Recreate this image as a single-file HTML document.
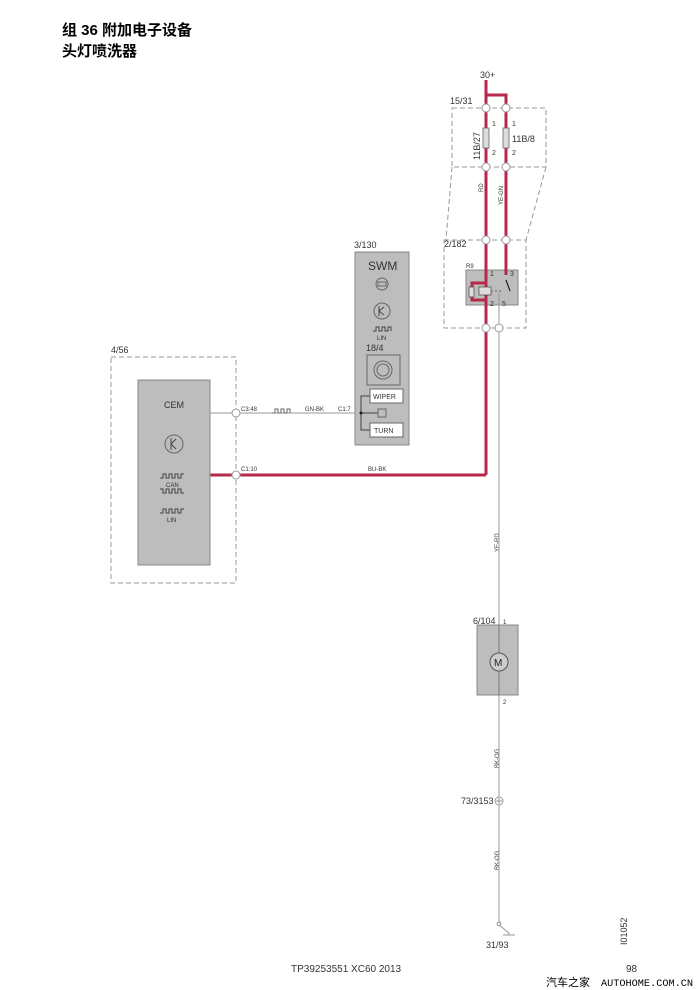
<!DOCTYPE html>
<html><head><meta charset="utf-8"><style>
html,body{margin:0;padding:0;background:#fff;overflow:hidden;}
svg{display:block;}
text{font-family:"Liberation Sans","Noto Sans CJK SC",sans-serif;fill:#333;}
</style></head><body>
<svg width="700" height="990" viewBox="0 0 700 990" xmlns="http://www.w3.org/2000/svg">
<text x="62" y="35" font-size="15" font-weight="bold" style="fill:#000">组 36 附加电子设备</text>
<text x="62" y="56" font-size="15" font-weight="bold" style="fill:#000">头灯喷洗器</text>

<g fill="none" stroke="#999" stroke-width="1" stroke-dasharray="5,3">
<rect x="452" y="108" width="94" height="59"/>
<line x1="452" y1="167" x2="446" y2="240"/>
<line x1="546" y1="167" x2="526" y2="240"/>
<rect x="444" y="240" width="82" height="88"/>
<rect x="111" y="357" width="125" height="226"/>
</g>
<text x="480" y="78" font-size="9">30+</text>
<text x="450" y="104" font-size="9">15/31</text>
<text x="444" y="247" font-size="9">2/182</text>
<text x="111" y="353" font-size="9">4/56</text>
<text x="354" y="248" font-size="9">3/130</text>

<rect x="466" y="270" width="52" height="35" fill="#bdbdbd" stroke="#888"/>
<g stroke="#b5294a" stroke-width="3" fill="none">
<line x1="486" y1="80" x2="486" y2="475"/>
<polyline points="486,95 506,95 506,275"/>
<polyline points="486,283 472,283 472,300 486,300"/>
<polyline points="210,475 486,475"/>
</g>
<rect x="483" y="128" width="6" height="20" fill="#ddd" stroke="#666" stroke-width="0.8"/>
<rect x="503" y="128" width="6" height="20" fill="#ddd" stroke="#666" stroke-width="0.8"/>
<g font-size="7"><text x="492" y="126">1</text><text x="512" y="126">1</text><text x="492" y="155">2</text><text x="512" y="155">2</text></g>
<text font-size="9" transform="translate(480,160) rotate(-90)">11B/27</text>
<text x="512" y="142" font-size="9">11B/8</text>
<text font-size="6" transform="translate(483,192) rotate(-90)">RD</text>
<text font-size="6" transform="translate(503,205) rotate(-90)">YE-GN</text>
<text font-size="6" transform="translate(499,552) rotate(-90)">YE-RD</text>
<text font-size="6" transform="translate(499,768) rotate(-90)">BK-OG</text>
<text font-size="6" transform="translate(499,870) rotate(-90)">BK-OG</text>
<rect x="469" y="287" width="5" height="10" fill="#ddd" stroke="#444" stroke-width="0.7"/>
<rect x="479" y="287" width="12" height="8" fill="#ddd" stroke="#444" stroke-width="0.7"/>
<line x1="491" y1="291" x2="503" y2="291" stroke="#666" stroke-dasharray="2,2"/>
<line x1="506" y1="280" x2="510" y2="291" stroke="#222" stroke-width="1.2"/>
<text x="466" y="268" font-size="6">R9</text>
<g font-size="7"><text x="490" y="276">1</text><text x="510" y="276">3</text><text x="490" y="306">2</text><text x="502" y="306">5</text></g>
<g stroke="#999" stroke-width="1" fill="none">
<line x1="499" y1="293" x2="499" y2="925"/>
<line x1="210" y1="413" x2="364" y2="413"/>
<polyline points="499,925 509,933"/>
<line x1="503" y1="935" x2="515" y2="935"/>
<line x1="509" y1="933" x2="509" y2="935"/>
</g>
<circle cx="499" cy="924" r="1.8" fill="#fff" stroke="#888"/>
<text x="486" y="948" font-size="9">31/93</text>
<g fill="#fff" stroke="#999" stroke-width="1">
<circle cx="486" cy="108" r="4"/><circle cx="506" cy="108" r="4"/>
<circle cx="486" cy="167" r="4"/><circle cx="506" cy="167" r="4"/>
<circle cx="486" cy="240" r="4"/><circle cx="506" cy="240" r="4"/>
<circle cx="486" cy="328" r="4"/><circle cx="499" cy="328" r="4"/>
<circle cx="236" cy="413" r="4"/><circle cx="236" cy="475" r="4"/>
<circle cx="499" cy="801" r="4"/>
</g>
<line x1="496" y1="801" x2="502" y2="801" stroke="#999"/><line x1="499" y1="798" x2="499" y2="804" stroke="#999"/>
<text x="461" y="804" font-size="9">73/3153</text>

<rect x="138" y="380" width="72" height="185" fill="#bdbdbd" stroke="#888"/>
<text x="164" y="408" font-size="9">CEM</text>
<circle cx="174" cy="444" r="9" fill="none" stroke="#666"/>
<path d="M171 438v12M171 444l5-5M171 444l5 5" stroke="#444" fill="none"/>
<path d="M160 478h3v-4h3v4h3v-4h3v4h3v-4h3v4h3v-4h3" stroke="#444" fill="none"/>
<text x="166" y="487" font-size="6">CAN</text>
<path d="M160 489h3v4h3v-4h3v4h3v-4h3v4h3v-4h3v4h3" stroke="#444" fill="none"/>
<path d="M160 513h3v-4h3v4h3v-4h3v4h3v-4h3v4h3v-4h3" stroke="#444" fill="none"/>
<text x="167" y="522" font-size="6">LIN</text>
<text x="241" y="411" font-size="6">C3:48</text>
<text x="241" y="471" font-size="6">C1:10</text>
<path d="M272 413h3v-4h3v4h3v-4h3v4h3v-4h3v4" stroke="#666" fill="none"/>
<text x="305" y="411" font-size="6">GN-BK</text>
<text x="338" y="411" font-size="6">C1:7</text>
<text x="368" y="471" font-size="6">BU-BK</text>

<rect x="355" y="252" width="54" height="193" fill="#bdbdbd" stroke="#888"/>
<text x="368" y="270" font-size="12">SWM</text>
<circle cx="382" cy="284" r="6" fill="none" stroke="#666"/>
<rect x="378" y="282" width="8" height="4" fill="none" stroke="#666"/>
<circle cx="382" cy="311" r="8" fill="none" stroke="#666"/>
<path d="M379 306v10M379 311l5-4M379 311l5 4" stroke="#444" fill="none"/>
<path d="M373 331h3v-4h3v4h3v-4h3v4h3v-4h3v4" stroke="#444" fill="none"/>
<text x="377" y="340" font-size="6">LIN</text>
<text x="366" y="351" font-size="9">18/4</text>
<rect x="367" y="355" width="33" height="30" fill="none" stroke="#666"/>
<circle cx="383" cy="370" r="9" fill="none" stroke="#666"/>
<circle cx="383" cy="370" r="6" fill="none" stroke="#666"/>
<rect x="370" y="389" width="33" height="14" fill="#fff" stroke="#666"/>
<text x="373" y="399" font-size="7">WIPER</text>
<rect x="370" y="423" width="33" height="14" fill="#fff" stroke="#666"/>
<text x="374" y="433" font-size="7">TURN</text>
<polyline points="370,396 361,396 361,430 370,430" stroke="#444" fill="none"/>
<line x1="361" y1="413" x2="378" y2="413" stroke="#444"/>
<rect x="378" y="409" width="8" height="8" fill="none" stroke="#666"/>
<circle cx="361" cy="413" r="1.5" fill="#222"/>

<rect x="477" y="625" width="41" height="70" fill="#bdbdbd" stroke="#888"/>
<line x1="499" y1="625" x2="499" y2="695" stroke="#777"/>
<circle cx="499" cy="662" r="9" fill="#ccc" stroke="#555"/>
<text x="494" y="666" font-size="10" style="fill:#222">M</text>
<text x="473" y="624" font-size="9">6/104</text>
<text x="503" y="624" font-size="6">1</text>
<text x="503" y="704" font-size="6">2</text>

<text font-size="9" transform="translate(627,945) rotate(-90)">I01052</text>
<text x="291" y="972" font-size="10">TP39253551 XC60 2013</text>
<text x="626" y="972" font-size="10">98</text>
<text x="546" y="986" font-size="11" style="fill:#000">汽车之家</text>
<text x="601" y="986" font-size="10" textLength="92" lengthAdjust="spacingAndGlyphs" style="fill:#000;font-family:'Liberation Mono',monospace">AUTOHOME.COM.CN</text>
</svg>
</body></html>
